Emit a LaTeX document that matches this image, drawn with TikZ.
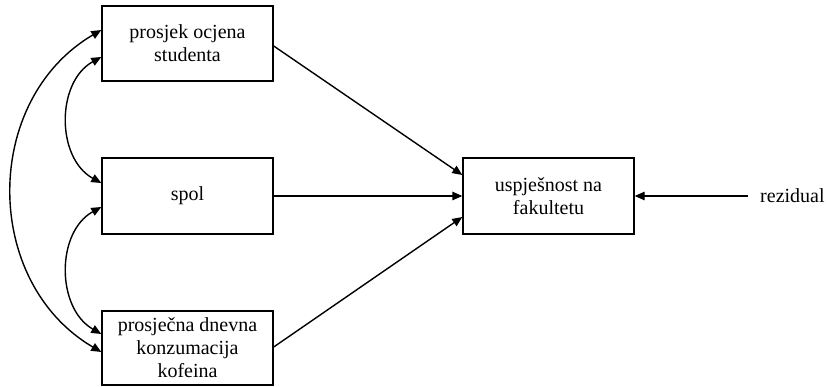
\documentclass[tikz,border=0pt]{standalone}
\usepackage{fontspec}
\setmainfont{Liberation Serif}
\usetikzlibrary{arrows.meta}
\begin{document}
\begin{tikzpicture}[x=1pt,y=-1pt,
  box/.style={draw, line width=1.4pt, minimum width=171pt, minimum height=75pt, align=center, inner sep=0pt,
    font=\fontsize{20}{23}\selectfont},
  arr/.style={line width=1.4pt, -{Triangle[length=10pt,width=8.5pt]}},
  darr/.style={line width=1.4pt, {Triangle[length=10pt,width=8.5pt]}-{Triangle[length=10pt,width=8.5pt]}}]
\useasboundingbox (0,0) rectangle (829,387);
\node[box] (a) at (187.5,43.5) {prosjek ocjena\\studenta};
\node[box, minimum height=76pt] (b) at (187.5,196) {spol};
\node[box, minimum height=74pt] (c) at (187.5,348) {prosječna dnevna\\konzumacija\\kofeina};
\node[box, minimum width=171pt, minimum height=76pt] (d) at (548.5,196) {uspješnost na\\fakultetu};
\node[font=\fontsize{20}{23}\selectfont, anchor=west, inner sep=0pt] (r) at (760,196) {rezidual};
\draw[arr] (a.east |- 0,46) -- (d.west |- 0,175);
\draw[arr] (b.east) -- (d.west);
\draw[arr] (c.east |- 0,347) -- (d.west |- 0,217);
\draw[arr] ([xshift=-12pt]r.west) -- (d.east);
\draw[darr] (a.west |- 0,30) .. controls (-18,100) and (-18,282) .. (c.west |- 0,352);
\draw[darr] (a.west |- 0,57) .. controls (56,82) and (56,158) .. (b.west |- 0,183);
\draw[darr] (b.west |- 0,207) .. controls (56,232) and (56,308) .. (c.west |- 0,334);
\end{tikzpicture}
\end{document}
